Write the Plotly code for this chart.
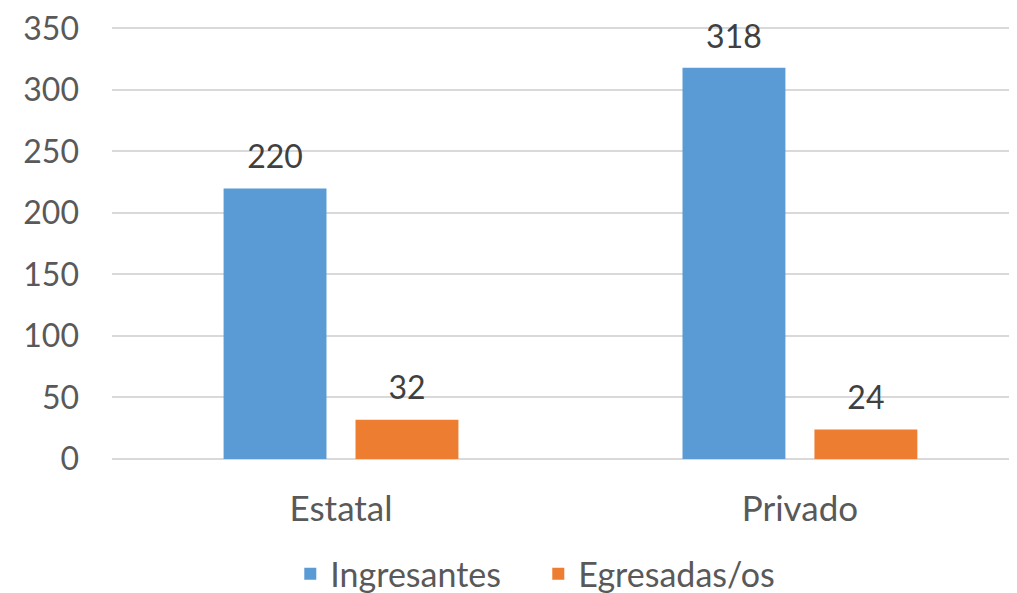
import plotly.graph_objects as go

categories = ["Estatal", "Privado"]
ingresantes = [220, 318]
egresadas = [32, 24]

FONT = "Lato, 'Open Sans', sans-serif"
LABEL_FONT = dict(size=32, color="#404040", family=FONT)

fig = go.Figure()
fig.add_trace(go.Bar(x=categories, y=ingresantes, name="Ingresantes", offsetgroup="a",
                     marker=dict(color="#5B9BD5", line=dict(width=0))))
fig.add_trace(go.Bar(x=categories, y=egresadas, name="Egresadas/os", offsetgroup="b",
                     marker=dict(color="#ED7D31", line=dict(width=0))))

# data labels as grouped text points so they sit a bit above the bars
for grp, vals in (("a", ingresantes), ("b", egresadas)):
    fig.add_trace(go.Scatter(
        x=categories, y=vals, text=vals, mode="markers+text",
        textposition="top center", textfont=LABEL_FONT,
        marker=dict(size=18, opacity=0), offsetgroup=grp,
        showlegend=False, hoverinfo="skip", cliponaxis=False,
    ))

fig.update_layout(
    width=1009, height=585,
    margin=dict(l=104, r=0, t=17.5, b=134, autoexpand=False),
    paper_bgcolor="white", plot_bgcolor="white",
    font=dict(family=FONT, size=32, color="#595959"),
    barmode="group", bargap=0.425, bargroupgap=0.22, scattermode="group",
    legend=dict(orientation="h", x=0.197, xanchor="left", y=-0.266, yanchor="middle",
                font=dict(size=34, color="#595959"), itemwidth=30,
                entrywidth=203, entrywidthmode="pixels"),
)
fig.update_xaxes(range=[-0.499, 1.473], showgrid=False, showline=False,
                 ticks="", ticklabelstandoff=26, automargin=False,
                 tickfont=dict(size=35))
fig.update_yaxes(range=[0, 352], tickvals=[0, 50, 100, 150, 200, 250, 300, 350],
                 showgrid=True, gridcolor="#D9D9D9",
                 gridwidth=1.5, zeroline=True, zerolinecolor="#D9D9D9", zerolinewidth=1.5,
                 showline=False, ticks="", ticklabelstandoff=32, automargin=False,
                 ticklabeloverflow="allow")

fig.write_html("out.html")
